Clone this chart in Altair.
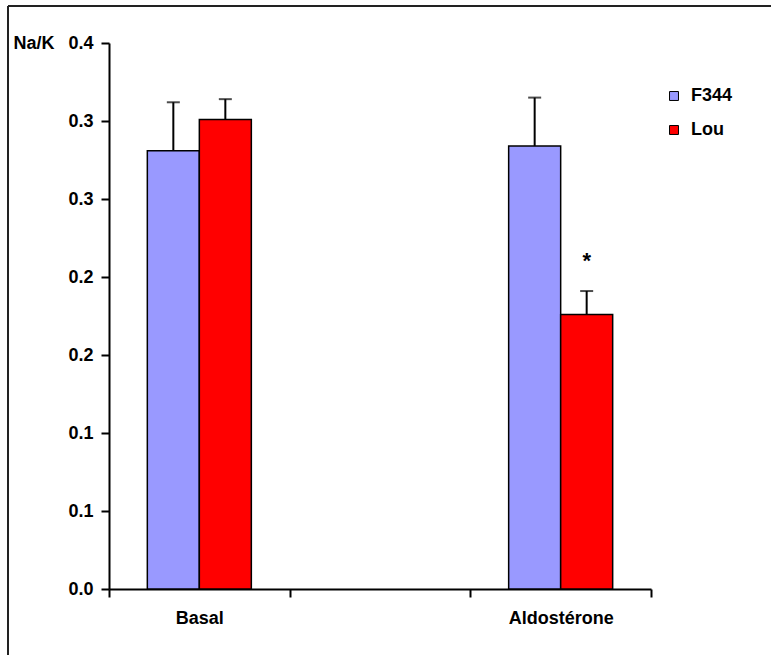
import altair as alt
import pandas as pd

groups = ["Basal", "Aldostérone"]
x_domain = ["Basal", " ", "Aldostérone"]
strains = ["F344", "Lou"]
f344_mean = [0.281, 0.284]
f344_sem = [0.031, 0.031]
lou_mean = [0.301, 0.176]
lou_sem = [0.013, 0.015]
f344_sig = ["", ""]
lou_sig = ["", "*"]
colors = ["#9999FF", "#FF0000"]
y_ticks = [0.0, 0.05, 0.10, 0.15, 0.20, 0.25, 0.30, 0.35]
y_tick_labels = ["0.0", "0.1", "0.1", "0.2", "0.2", "0.3", "0.3", "0.4"]

rows = []
for i, g in enumerate(groups):
    rows.append({"group": g, "strain": "F344", "mean": f344_mean[i],
                 "upper": f344_mean[i] + f344_sem[i], "sig": f344_sig[i]})
    rows.append({"group": g, "strain": "Lou", "mean": lou_mean[i],
                 "upper": lou_mean[i] + lou_sem[i], "sig": lou_sig[i]})
df = pd.DataFrame(rows)

FONT = "Liberation Sans"
label_arr = "[" + ",".join("'%s'" % s for s in y_tick_labels) + "]"

base = alt.Chart(df).encode(
    x=alt.X("group:N",
            scale=alt.Scale(domain=x_domain, paddingInner=0, paddingOuter=0),
            axis=alt.Axis(title=None, tickBand="extent", labelAngle=0,
                          labelFontSize=18, labelFontWeight="bold", labelFont=FONT,
                          labelColor="black", labelPadding=12,
                          domainColor="black", domainWidth=2,
                          tickColor="black", tickWidth=2, tickSize=8)),
    xOffset=alt.XOffset("strain:N",
                        scale=alt.Scale(domain=strains, paddingInner=0, paddingOuter=0.737)),
)

yenc = alt.Y("mean:Q",
             scale=alt.Scale(domain=[0, 0.35], nice=False, zero=True),
             axis=alt.Axis(values=y_ticks, grid=False,
                           labelExpr=label_arr + "[round(datum.value / 0.05)]",
                           labelFontSize=18, labelFontWeight="bold", labelFont=FONT,
                           labelColor="black", labelPadding=8,
                           domainColor="black", domainWidth=2,
                           tickColor="black", tickWidth=2, tickSize=8,
                           title="Na/K", titleAngle=0, titleAlign="left",
                           titleBaseline="middle", titleX=-96, titleY=0,
                           titleFontSize=18, titleFontWeight="bold", titleFont=FONT,
                           titleColor="black"))

bars = base.mark_bar(stroke="black", strokeWidth=1.5).encode(
    y=yenc,
    color=alt.Color("strain:N",
                    scale=alt.Scale(domain=strains, range=colors),
                    legend=alt.Legend(orient="none", legendX=556, legendY=44, title=None,
                                      symbolType="square", symbolSize=80,
                                      symbolStrokeColor="black", symbolStrokeWidth=1,
                                      labelFontSize=18, labelFontWeight="bold",
                                      labelFont=FONT, labelColor="black",
                                      rowPadding=16, labelOffset=8)),
)

err = base.mark_rule(color="black", strokeWidth=2).encode(
    y="mean:Q", y2="upper:Q")

caps = base.mark_tick(orient="horizontal", size=13, thickness=2, color="black").encode(
    y="upper:Q")

star = base.transform_filter(alt.datum.sig != "").mark_text(
    dy=-30, fontSize=22, fontWeight="bold", font=FONT, color="black").encode(
    y="upper:Q", text="sig:N")

frame_df = pd.DataFrame({"k": [0]})
top_line = alt.Chart(frame_df).mark_rule(color="#222222", strokeWidth=2).encode(
    x=alt.value(-101), x2=alt.value(662), y=alt.value(-37))
left_line = alt.Chart(frame_df).mark_rule(color="#222222", strokeWidth=2).encode(
    x=alt.value(-101), y=alt.value(-37), y2=alt.value(612))

chart = alt.layer(err, caps, bars, star, top_line, left_line).properties(
    width=542, height=546,
    autosize=alt.AutoSizeParams(type="none"),
    padding={"left": 109, "top": 43, "right": 120, "bottom": 66},
    background="white",
).configure_view(stroke=None)

chart.save("out.html", embed_options={"renderer": "svg", "actions": False})
